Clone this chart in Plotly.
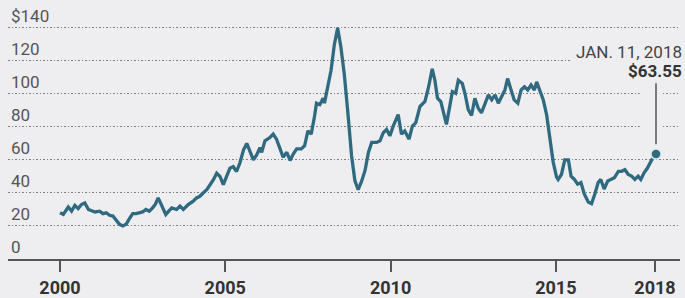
import plotly.graph_objects as go

# Oil price, dollars per barrel
years = [
    2000.00, 2000.10, 2000.25, 2000.35, 2000.45, 2000.55, 2000.65, 2000.75, 2000.86, 2000.96,
    2001.06, 2001.20, 2001.30, 2001.40, 2001.50, 2001.60, 2001.70, 2001.80, 2001.90, 2002.00,
    2002.10, 2002.20, 2002.30, 2002.40, 2002.50, 2002.60, 2002.70, 2002.80, 2002.88, 2002.97,
    2003.07, 2003.20, 2003.38, 2003.53, 2003.63, 2003.73, 2003.88, 2004.03, 2004.13, 2004.23,
    2004.33, 2004.44, 2004.54, 2004.64, 2004.74, 2004.84, 2004.94, 2005.04, 2005.14, 2005.24,
    2005.34, 2005.44, 2005.55, 2005.65, 2005.75, 2005.85, 2005.95, 2006.05, 2006.10, 2006.20,
    2006.35, 2006.45, 2006.55, 2006.65, 2006.75, 2006.86, 2006.96, 2007.06, 2007.16, 2007.30,
    2007.40, 2007.50, 2007.60, 2007.70, 2007.76, 2007.86, 2007.96, 2008.00, 2008.10, 2008.20,
    2008.30, 2008.40, 2008.50, 2008.60, 2008.70, 2008.82, 2008.92, 2009.02, 2009.12, 2009.23,
    2009.33, 2009.43, 2009.58, 2009.68, 2009.78, 2009.88, 2009.98, 2010.08, 2010.23, 2010.33,
    2010.43, 2010.56, 2010.66, 2010.76, 2010.89, 2011.04, 2011.14, 2011.26, 2011.34, 2011.42,
    2011.52, 2011.60, 2011.69, 2011.80, 2011.87, 2011.97, 2012.05, 2012.17, 2012.25, 2012.35,
    2012.45, 2012.55, 2012.65, 2012.75, 2012.86, 2012.96, 2013.06, 2013.16, 2013.26, 2013.36,
    2013.46, 2013.54, 2013.64, 2013.74, 2013.85, 2013.95, 2014.05, 2014.15, 2014.25, 2014.35,
    2014.42, 2014.52, 2014.62, 2014.72, 2014.82, 2014.92, 2015.02, 2015.07, 2015.17, 2015.27,
    2015.38, 2015.46, 2015.56, 2015.66, 2015.76, 2015.86, 2015.98, 2016.08, 2016.18, 2016.28,
    2016.36, 2016.46, 2016.57, 2016.67, 2016.77, 2016.89, 2016.99, 2017.09, 2017.19, 2017.29,
    2017.39, 2017.49, 2017.57, 2017.67, 2017.77, 2017.90, 2018.03,
]
prices = [
    28.0, 27.0, 31.5, 29.0, 32.5, 30.5, 33.0, 34.0, 30.0, 29.0,
    28.5, 29.0, 27.5, 28.0, 26.5, 26.0, 23.5, 21.0, 20.0, 21.0,
    24.5, 27.5, 27.5, 28.0, 28.5, 30.0, 29.0, 31.0, 33.0, 37.0,
    33.0, 27.0, 31.0, 30.0, 32.0, 30.0, 33.0, 35.0, 37.0, 38.0,
    40.0, 42.0, 45.0, 48.0, 52.0, 50.0, 45.0, 50.0, 55.0, 56.0,
    53.0, 58.0, 66.0, 70.0, 65.0, 60.0, 63.0, 67.5, 64.6, 71.6,
    73.6, 75.6, 72.6, 66.7, 61.7, 64.6, 59.7, 63.7, 66.7, 66.7,
    68.6, 77.6, 75.6, 86.5, 94.4, 93.5, 97.4, 94.4, 103.3, 114.3,
    130.0, 140.0, 128.0, 112.0, 90.5, 62.7, 47.5, 42.0, 46.8, 53.8,
    64.6, 70.6, 70.6, 71.6, 76.5, 78.5, 74.6, 80.5, 87.5, 75.6,
    77.6, 72.6, 80.5, 82.5, 92.4, 95.4, 103.3, 115.2, 108.3, 97.4,
    95.4, 89.5, 81.5, 93.5, 101.4, 100.4, 108.3, 106.3, 100.4, 90.5,
    86.9, 97.4, 91.4, 88.5, 94.4, 99.4, 96.4, 99.4, 94.4, 98.4,
    102.4, 109.3, 103.3, 96.4, 94.4, 102.4, 104.3, 102.4, 105.4, 102.4,
    107.3, 102.4, 96.4, 87.5, 72.6, 58.7, 49.8, 48.2, 51.2, 60.0,
    60.0, 50.2, 48.2, 45.3, 46.3, 39.4, 34.5, 33.5, 39.4, 46.3,
    48.2, 42.4, 47.2, 48.2, 49.2, 53.1, 53.1, 54.1, 51.2, 50.2,
    48.2, 50.2, 48.2, 52.2, 55.1, 60.0, 63.55,
]

x_tick_vals = [2000, 2005, 2010, 2015, 2018]
x_tick_text = ["2000", "2005", "2010", "2015", "2018"]
y_tick_vals = [0, 20, 40, 60, 80, 100, 120, 140]
y_tick_text = ["0", "20", "40", "60", "80", "100", "120", "$140"]

last_date_label = "JAN. 11, 2018"
last_price_label = "$63.55"

BG = "#eeeef0"
LINE = "#2f6a80"

fig = go.Figure()
fig.add_trace(go.Scatter(
    x=years, y=prices, mode="lines",
    line=dict(color=LINE, width=3.3),
    hoverinfo="skip", showlegend=False,
))
fig.add_trace(go.Scatter(
    x=[years[-1]], y=[prices[-1]], mode="markers",
    marker=dict(size=10, color=LINE, line=dict(color="#dbe6ea", width=1.5)),
    hoverinfo="skip", showlegend=False,
))

# gaps in gridlines around the label
fig.add_shape(type="rect", layer="between", xref="x", yref="y",
              x0=2015.43, x1=2019.5, y0=110, y1=128,
              fillcolor=BG, line=dict(width=0))
fig.add_shape(type="rect", layer="between", xref="x", yref="y",
              x0=2017.54, x1=2018.24, y0=70, y1=110,
              fillcolor=BG, line=dict(width=0))
# leader line
fig.add_shape(type="line", xref="x", yref="y",
              x0=years[-1], x1=years[-1], y0=69.5, y1=106.5,
              line=dict(color="#555555", width=1.5))

fig.add_annotation(x=1.006, xref="paper", xanchor="right", y=125.5, yref="y",
                   text=last_date_label, showarrow=False,
                   font=dict(family="Roboto", size=17, color="#444444"))
fig.add_annotation(x=1.006, xref="paper", xanchor="right", y=114.0, yref="y",
                   text="<b>" + last_price_label + "</b>", showarrow=False,
                   font=dict(family="Roboto", size=17, color="#333333"))

fig.update_layout(
    width=685, height=298,
    margin=dict(l=8, r=5, t=0, b=33),
    paper_bgcolor=BG, plot_bgcolor=BG,
    font=dict(family="Roboto", color="#555555"),
    xaxis=dict(
        range=[1998.427, 2018.756],
        tickvals=x_tick_vals, ticktext=x_tick_text,
        showgrid=False, zeroline=False,
        showline=True, linecolor="#555555", linewidth=2,
        ticks="outside", ticklen=11, tickwidth=1.5, tickcolor="#555555",
        tickfont=dict(family="Roboto", size=18, color="#333333", weight="bold"),
        fixedrange=True,
    ),
    yaxis=dict(
        range=[0, 156.9],
        tickvals=y_tick_vals, ticktext=y_tick_text,
        ticklabelposition="inside top",
        tickfont=dict(family="Roboto", size=17, color="#555555"),
        showgrid=True, gridcolor="#7f7f7f", gridwidth=1.3, griddash="1.5px,2px",
        zeroline=False, showline=False, ticks="",
        fixedrange=True,
    ),
)

fig.write_html(
    "out.html",
    config={"displayModeBar": False},
    post_script="document.body.style.margin='0';document.body.style.background='" + BG + "';",
)
